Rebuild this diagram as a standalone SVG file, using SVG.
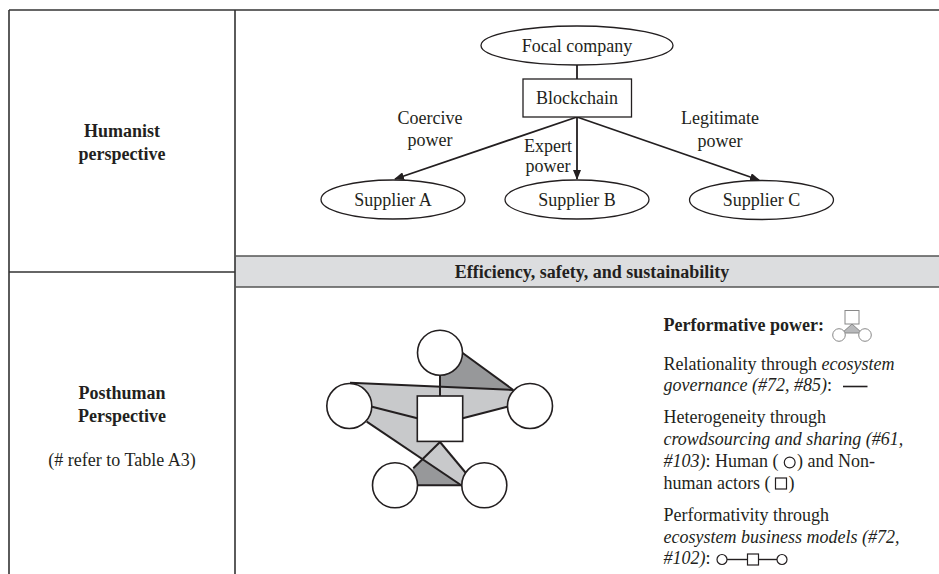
<svg xmlns="http://www.w3.org/2000/svg" width="939" height="574" viewBox="0 0 939 574">
<style>
text{font-family:"Liberation Serif","Times New Roman",serif;font-size:18px;fill:#231f20}
.b{font-weight:bold}
.i{font-style:italic}
.c{text-anchor:middle}
.grid{stroke:#333;stroke-width:1.6;fill:none}
.nd{fill:#fff;stroke:#231f20;stroke-width:1.3}
.ar{stroke:#231f20;stroke-width:1.8;fill:none}
.ln{stroke:#231f20;stroke-width:2;fill:none}
.hc{fill:#fff;stroke:#231f20;stroke-width:1.6}
.lg{fill:#c8c9cb}
.dg{fill:#97989a}
.sym{fill:#fff;stroke:#231f20;stroke-width:1.2}
</style>
<defs>
<marker id="ah" markerUnits="userSpaceOnUse" markerWidth="10" markerHeight="8" refX="9" refY="4" orient="auto">
<path d="M0,0 L10,4 L0,8 Z" fill="#231f20"/>
</marker>
</defs>
<rect x="0" y="0" width="939" height="574" fill="#fff"/>
<g id="table">
<rect x="235" y="256" width="704" height="31" fill="#dcdddf"/>
<line class="grid" x1="9" y1="10" x2="939" y2="10"/>
<line class="grid" x1="9" y1="10" x2="9" y2="574"/>
<line class="grid" x1="235" y1="10" x2="235" y2="574"/>
<line class="grid" x1="9" y1="272" x2="235" y2="272"/>
<line class="grid" x1="235" y1="256" x2="939" y2="256" style="stroke:#555"/>
<line class="grid" x1="235" y1="287" x2="939" y2="287" style="stroke:#555"/>
</g>
<g id="row-labels">
<text class="b c" x="122" y="137">Humanist</text>
<text class="b c" x="122" y="160">perspective</text>
<text class="b c" x="122" y="399">Posthuman</text>
<text class="b c" x="122" y="422">Perspective</text>
<text class="c" x="122" y="466">(# refer to Table A3)</text>
<text class="b c" x="592" y="278">Efficiency, safety, and sustainability</text>
</g>
<g id="connectors">
<line class="ar" x1="577" y1="65" x2="577" y2="79"/>
<line class="ar" x1="577" y1="117" x2="395" y2="179" marker-end="url(#ah)"/>
<line class="ar" x1="577" y1="117" x2="577" y2="179" marker-end="url(#ah)"/>
<line class="ar" x1="577" y1="117" x2="759" y2="180" marker-end="url(#ah)"/>
</g>
<g id="edge-labels">
<text class="c" x="430" y="124">Coercive</text>
<text class="c" x="430" y="146">power</text>
<text class="c" x="548" y="152">Expert</text>
<text class="c" x="548" y="172">power</text>
<text class="c" x="720" y="124">Legitimate</text>
<text class="c" x="720" y="147">power</text>
</g>
<g id="focal-company">
<ellipse class="nd" cx="577" cy="45.5" rx="96" ry="19.5"/>
<text class="c" x="577" y="52">Focal company</text>
</g>
<g id="blockchain">
<rect class="nd" x="523" y="79" width="108.5" height="38"/>
<text class="c" x="577" y="104">Blockchain</text>
</g>
<g id="supplier-a">
<ellipse class="nd" cx="393" cy="199.5" rx="72" ry="19.5"/>
<text class="c" x="393" y="206">Supplier A</text>
</g>
<g id="supplier-b">
<ellipse class="nd" cx="577" cy="199.5" rx="72" ry="19.5"/>
<text class="c" x="577" y="206">Supplier B</text>
</g>
<g id="supplier-c">
<ellipse class="nd" cx="761.5" cy="200" rx="72" ry="19.5"/>
<text class="c" x="761.5" y="206">Supplier C</text>
</g>
<g id="network">
<polygon class="lg" points="350,382.7 513.3,390 507.3,407.3 462.7,418.3 440,442 466.7,474 462.3,486 366.7,421.7 328.3,406.7"/>
<polygon class="dg" points="440,373.3 462.3,352 513.3,390 440,386.7"/>
<polygon class="dg" points="422.3,459.3 412.3,469.3 417.3,485.3 462.3,485.3"/>
<line class="ln" x1="440" y1="375" x2="440" y2="396"/>
<line class="ln" x1="462.3" y1="352.7" x2="513.3" y2="390"/>
<line class="ln" x1="350" y1="382.7" x2="513.3" y2="390"/>
<line class="ln" x1="372" y1="406.7" x2="417.3" y2="418.3"/>
<line class="ln" x1="507.3" y1="406.7" x2="462.7" y2="418.3"/>
<line class="ln" x1="366.7" y1="421.7" x2="462.3" y2="486"/>
<line class="ln" x1="440" y1="442" x2="413.3" y2="468.3"/>
<line class="ln" x1="440" y1="442" x2="466.7" y2="474"/>
<line class="ln" x1="417.3" y1="485.3" x2="462.3" y2="485.3"/>
</g>
<g id="actor-top"><circle class="hc" cx="440" cy="352.7" r="22.5"/></g>
<g id="actor-left"><circle class="hc" cx="349.3" cy="406" r="22.5"/></g>
<g id="actor-right"><circle class="hc" cx="530" cy="406" r="22.5"/></g>
<g id="actor-bottom-left"><circle class="hc" cx="395" cy="485.3" r="22.5"/></g>
<g id="actor-bottom-right"><circle class="hc" cx="484.3" cy="485.3" r="22.5"/></g>
<g id="nonhuman-actor"><rect class="hc" x="417.3" y="396" width="45.4" height="45.4"/></g>
<g id="legend">
<text class="b" x="663.5" y="331">Performative power:</text>
<g id="legend-icon">
<polygon points="852,324 842,333 862,333" fill="#b8b9bb" stroke="#888" stroke-width="1"/>
<rect x="845" y="310.5" width="14" height="13.5" fill="#fff" stroke="#888" stroke-width="1"/>
<circle cx="839" cy="335" r="6.3" fill="#fff" stroke="#888" stroke-width="1"/>
<circle cx="865" cy="335" r="6.3" fill="#fff" stroke="#888" stroke-width="1"/>
</g>
<text x="663.5" y="370">Relationality through <tspan class="i">ecosystem</tspan></text>
<text x="663.5" y="391"><tspan class="i">governance (#72, #85)</tspan>:</text>
<line x1="843" y1="386.5" x2="867.5" y2="386.5" stroke="#231f20" stroke-width="1.6"/>
<text x="663.5" y="423">Heterogeneity through</text>
<text x="663.5" y="445"><tspan class="i">crowdsourcing and sharing (#61,</tspan></text>
<text x="663.5" y="467"><tspan class="i">#103)</tspan>: Human (</text>
<circle class="sym" cx="789.7" cy="462.5" r="5.4"/>
<text x="797" y="467">) and Non-</text>
<text x="663.5" y="489">human actors (</text>
<rect class="sym" x="775.5" y="478" width="11" height="11"/>
<text x="788.5" y="489">)</text>
<text x="663.5" y="521">Performativity through</text>
<text x="663.5" y="543"><tspan class="i">ecosystem business models (#72,</tspan></text>
<text x="663.5" y="564"><tspan class="i">#102)</tspan>:</text>
<line x1="727" y1="559.5" x2="747.5" y2="559.5" stroke="#231f20" stroke-width="1.4"/>
<line x1="758.5" y1="559.5" x2="777" y2="559.5" stroke="#231f20" stroke-width="1.4"/>
<circle class="sym" cx="722" cy="559.5" r="5"/>
<rect class="sym" x="747.5" y="554" width="11" height="11"/>
<circle class="sym" cx="782" cy="559.5" r="5"/>
</g>
</svg>
